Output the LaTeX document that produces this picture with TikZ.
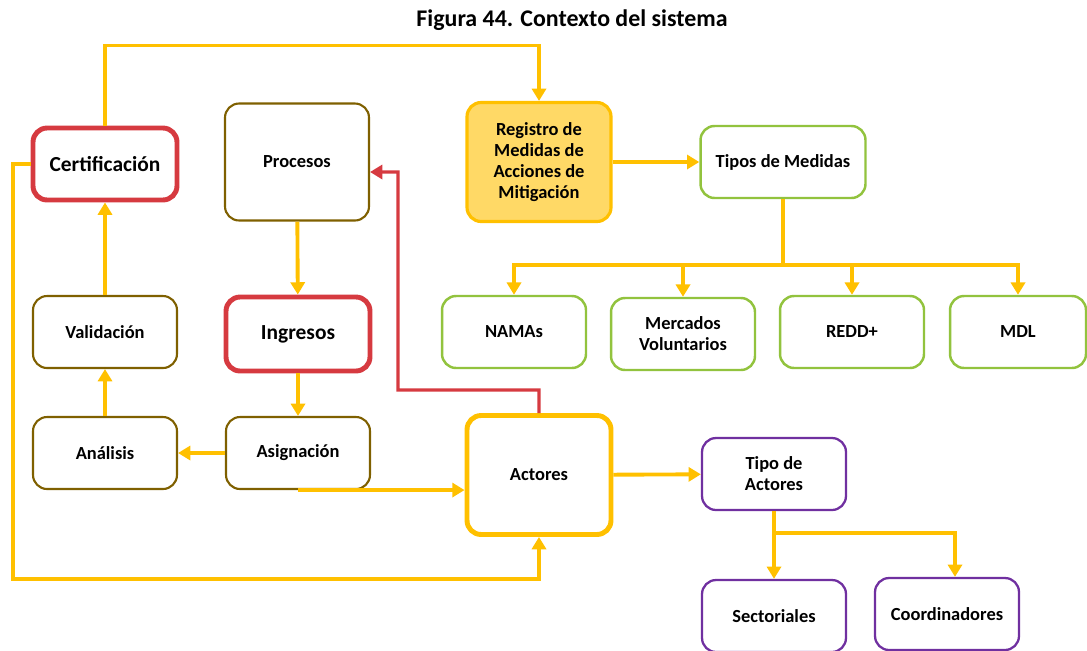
\documentclass[tikz,border=0pt]{standalone}
\usepackage{fontspec}
\setmainfont{Carlito}
\usepackage{xcolor}
\usepackage{tikz}
\usetikzlibrary{arrows.meta,positioning}
\definecolor{sysorange}{RGB}{255,192,0}
\definecolor{sysred}{RGB}{214,58,64}
\definecolor{sysbrown}{RGB}{127,96,0}
\definecolor{sysgreen}{RGB}{146,195,62}
\definecolor{syspurple}{RGB}{112,48,160}
\definecolor{sysfill}{RGB}{255,217,102}
\begin{document}
\begin{tikzpicture}[
    x=0.02cm, y=-0.02cm,
    box/.style={rectangle,rounded corners=8pt,fill=white,align=center,
                inner sep=2pt,font=\fontsize{10.5}{12}\selectfont\bfseries,
                minimum width=2.88cm,minimum height=1.44cm},
    brownbox/.style={box,draw=sysbrown,line width=1.2pt},
    redbox/.style={box,draw=sysred,line width=2.8pt,
                   font=\fontsize{12.2}{14}\selectfont\bfseries},
    greenbox/.style={box,draw=sysgreen,line width=1.4pt},
    purplebox/.style={box,draw=syspurple,line width=1.3pt},
    mainbox/.style={box,draw=sysorange,line width=2.8pt,minimum height=2.38cm},
    arr/.style={-{Triangle[length=7pt,width=8pt]},draw=sysorange,line width=2.2pt},
    link/.style={draw=sysorange,line width=2.2pt},
    redarr/.style={-{Triangle[length=7pt,width=8pt]},draw=sysred,line width=1.8pt}
  ]
    \useasboundingbox (0,0) rectangle (1087,650);
    % Title
    \node[font=\fontsize{13.6}{16}\selectfont\bfseries] (title) at (572,20) {Figura 44. Contexto del sistema};
    % Left column: process loop
    \node[redbox] (cert) at (105,164) {Certificación};
    \node[brownbox] (val) at (105,332) {Validación};
    \node[brownbox] (anal) at (105,453) {Análisis};
    \node[brownbox,minimum height=2.34cm] (proc) at (297,162) {Procesos};
    \node[redbox,minimum height=1.48cm] (ingr) at (298,334) {Ingresos};
    \node[brownbox] (asig) at (298,453) {Asignación};
    % Centre: registro + actores
    \node[mainbox,fill=sysfill,line width=1.8pt] (reg) at (539,162) {Registro de\\Medidas de\\Acciones de\\Mitigación};
    \node[mainbox] (act) at (539,475) {Actores};
    % Right: measure types
    \node[greenbox,minimum width=3.3cm] (tipos) at (783,162) {Tipos de Medidas};
    \node[greenbox] (namas) at (514,332) {NAMAs};
    \node[greenbox] (merc) at (683,334) {Mercados\\Voluntarios};
    \node[greenbox] (redd) at (852,332) {REDD+};
    \node[greenbox,minimum width=2.72cm] (mdl) at (1018,332) {MDL};
    % Right: actor types
    \node[purplebox] (tact) at (774,474) {Tipo de\\Actores};
    \node[purplebox] (sect) at (774,616) {Sectoriales};
    \node[purplebox] (coord) at (947,614) {Coordinadores};

    % Arrows
    \draw[arr] (cert.north) -- ++(0,-80) -| (reg.north);
    \draw[arr] (reg) -- (tipos);
    \draw[arr] (proc) -- (ingr);
    \draw[arr] (ingr) -- (asig);
    \draw[arr] (asig) -- (anal);
    \draw[arr] (anal) -- (val);
    \draw[arr] (val) -- (cert);
    \draw[arr] (asig.south) -- (asig.south -| act.west);
    \draw[arr] (cert.west) -| (13,579) -| (act.south);
    \draw[redarr] (act.north) -- ++(0,-23) -| (398,172) -- ([yshift=-0.2cm]proc.east);
    \draw[arr] (act) -- (tact);
    \draw[link] (tipos.south) -- ++(0,66) coordinate (busm);
    \foreach \n in {namas,merc,redd,mdl}
      \draw[arr] (busm) -| (\n.north);
    \draw[arr] (tact.south) -- (sect.north);
    \draw[link] (tact.south) -- ++(0,22) coordinate (busa);
    \draw[arr] (busa) -| ([xshift=0.16cm]coord.north);
  \end{tikzpicture}
\end{document}
